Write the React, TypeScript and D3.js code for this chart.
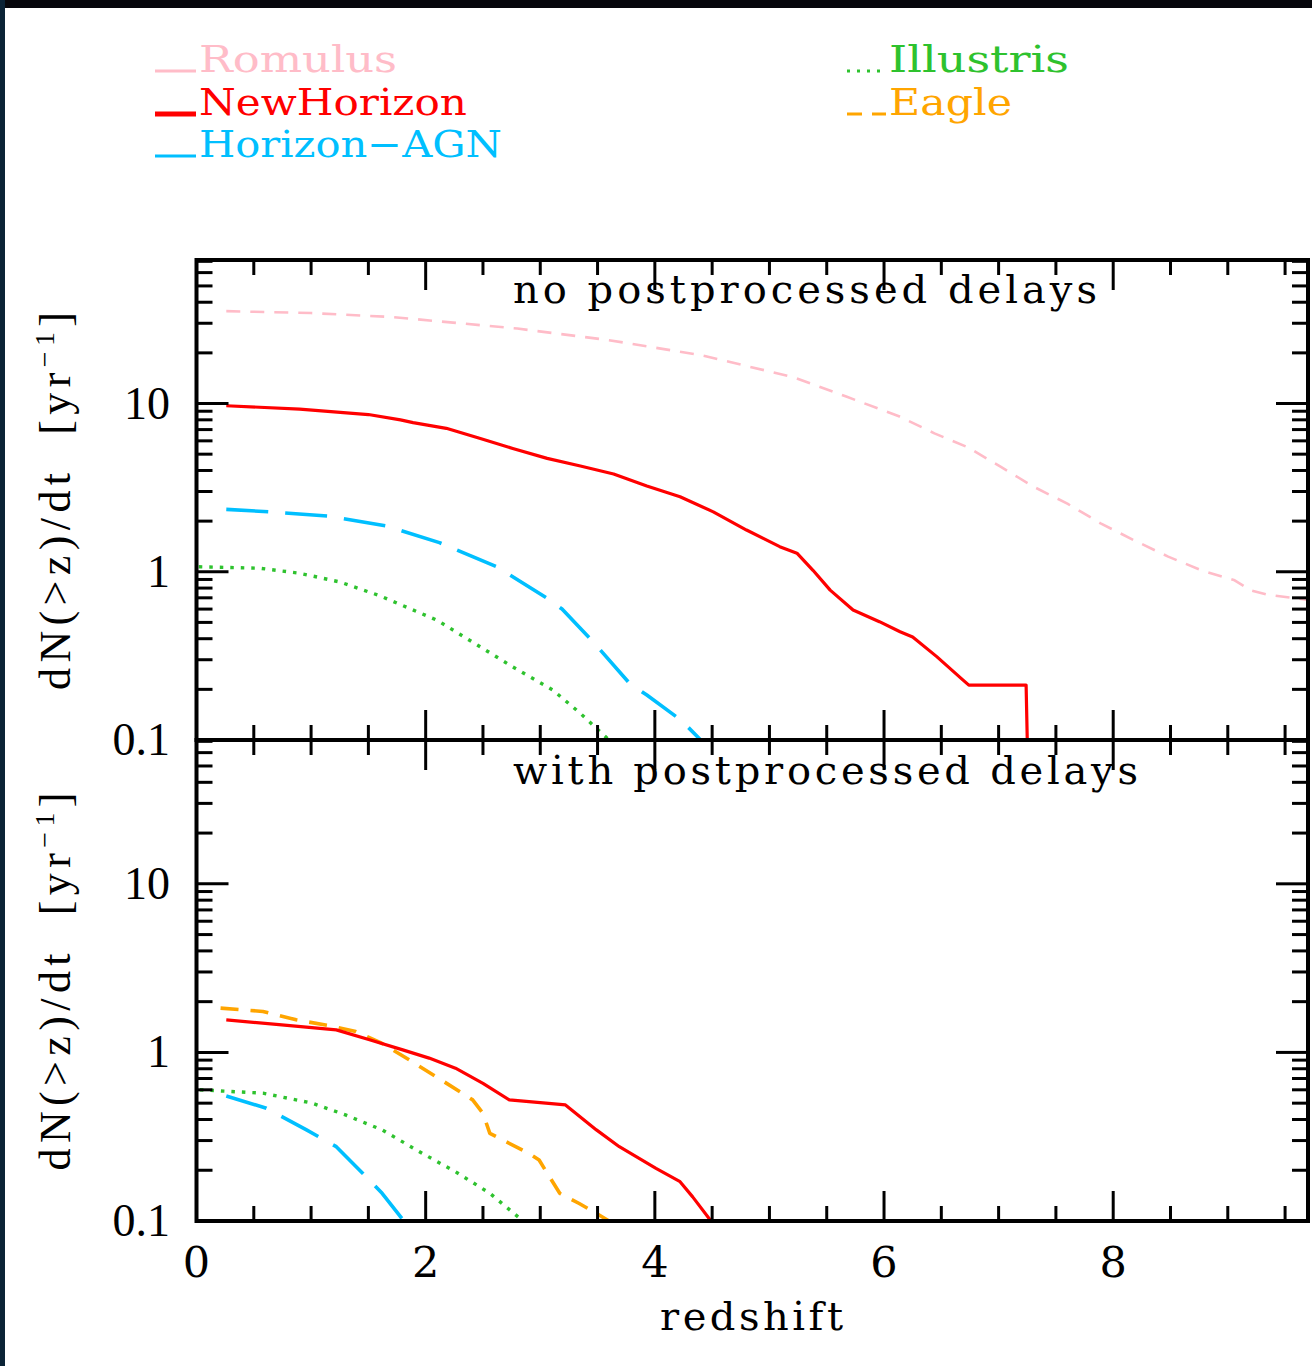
import React from 'react';
import * as d3 from 'd3';

const W = 1312;
const H = 1366;

// ---------- Top panel: no postprocessed delays ----------
const romulusTopZ = [0.26, 1.0, 1.7, 2.8, 3.6, 4.4, 5.2, 5.67, 6.13, 6.44, 6.73, 7.02, 7.31, 7.6, 7.89, 8.18, 8.48, 8.77, 9.06, 9.2, 9.35, 9.7];
const romulusTopV = [35.4, 34.5, 32.7, 27.9, 23.8, 19.4, 14.4, 11.0, 8.4, 6.65, 5.5, 4.2, 3.19, 2.54, 1.94, 1.54, 1.23, 1.02, 0.89, 0.775, 0.73, 0.68];

const newHorizonTopZ = [0.26, 0.9, 1.5, 1.78, 1.89, 2.18, 2.47, 2.76, 3.06, 3.35, 3.64, 3.93, 4.22, 4.51, 4.8, 5.09, 5.24, 5.38, 5.53, 5.73, 5.96, 6.14, 6.25, 6.46, 6.69, 6.74, 7.24, 7.25];
const newHorizonTopV = [9.7, 9.27, 8.6, 8.0, 7.7, 7.12, 6.21, 5.41, 4.72, 4.25, 3.81, 3.23, 2.79, 2.27, 1.77, 1.41, 1.29, 1.02, 0.778, 0.593, 0.505, 0.44, 0.41, 0.313, 0.227, 0.212, 0.212, 0.1];

const horizonAgnTopZ = [0.26, 0.64, 1.16, 1.66, 2.12, 2.62, 3.06, 3.19, 3.46, 3.78, 3.93, 4.23, 4.4];
const horizonAgnTopV = [2.35, 2.27, 2.14, 1.87, 1.49, 1.07, 0.695, 0.6, 0.384, 0.217, 0.185, 0.131, 0.1];

const illustrisTopZ = [0.02, 0.55, 0.9, 1.25, 1.6, 2.1, 2.76, 3.11, 3.35, 3.6];
const illustrisTopV = [1.07, 1.05, 0.98, 0.87, 0.72, 0.515, 0.272, 0.198, 0.144, 0.1];

// ---------- Bottom panel: with postprocessed delays ----------
const eagleBotZ = [0.21, 0.58, 0.87, 1.16, 1.39, 1.62, 1.86, 2.09, 2.32, 2.41, 2.5, 2.56, 2.67, 2.9, 2.99, 3.08, 3.17, 3.34, 3.49, 3.6];
const eagleBotV = [1.83, 1.75, 1.56, 1.44, 1.33, 1.13, 0.9, 0.718, 0.573, 0.523, 0.435, 0.331, 0.303, 0.252, 0.23, 0.183, 0.146, 0.127, 0.111, 0.1];

const newHorizonBotZ = [0.26, 0.72, 1.22, 1.51, 1.8, 2.03, 2.26, 2.5, 2.73, 3.22, 3.49, 3.69, 4.01, 4.22, 4.33, 4.49];
const newHorizonBotV = [1.56, 1.46, 1.36, 1.19, 1.035, 0.925, 0.806, 0.656, 0.523, 0.488, 0.347, 0.276, 0.205, 0.171, 0.139, 0.1];

const horizonAgnBotZ = [0.26, 0.61, 0.96, 1.22, 1.45, 1.62, 1.81];
const horizonAgnBotV = [0.552, 0.466, 0.347, 0.276, 0.192, 0.146, 0.1];

const illustrisBotZ = [0.03, 0.58, 1.01, 1.3, 1.62, 1.97, 2.26, 2.56, 2.85];
const illustrisBotV = [0.6, 0.573, 0.5, 0.426, 0.347, 0.252, 0.196, 0.146, 0.1];

// ---------- Axes ----------
const xDomain = [0, 9.7];
const yDomain = [0.1, 71.3];
const xMajorTicks = [0, 2, 4, 6, 8];
const xTickLabels = ['0', '2', '4', '6', '8'];
const yMajorTicks = [0.1, 1, 10];
const yTickLabels = ['0.1', '1', '10'];
const panelTitles = ['no postprocessed delays', 'with postprocessed delays'];
const xAxisTitle = 'redshift';

// ---------- Legend ----------
const legendLeft = [
  { name: 'Romulus', color: '#ffbcc8', width: 3, dash: '' },
  { name: 'NewHorizon', color: '#ff0000', width: 5, dash: '' },
  { name: 'Horizon\u2212AGN', color: '#00bfff', width: 3, dash: '' },
];
const legendRight = [
  { name: 'Illustris', color: '#2ec22e', width: 3, dash: '3 7' },
  { name: 'Eagle', color: '#ffa500', width: 3, dash: '15 10' },
];

const COLORS = {
  romulus: '#ffbcc8',
  newhorizon: '#ff0000',
  hagn: '#00bfff',
  illustris: '#2ec22e',
  eagle: '#ffa500',
};

function zip(zs: number[], vs: number[]) {
  return zs.map((z, i) => [z, vs[i]] as [number, number]);
}

export default function App() {
  const x = d3.scaleLinear().domain(xDomain).range([196.5, 1308]);

  const panels = [
    {
      id: 'p0', top: 260, bottom: 740, title: panelTitles[0], titleLen: 584, titleY: 303,
      series: [
        { d: zip(romulusTopZ, romulusTopV), color: COLORS.romulus, w: 2.6, dash: '14 10' },
        { d: zip(newHorizonTopZ, newHorizonTopV), color: COLORS.newhorizon, w: 3.2, dash: '' },
        { d: zip(horizonAgnTopZ, horizonAgnTopV), color: COLORS.hagn, w: 3.6, dash: '42 17' },
        { d: zip(illustrisTopZ, illustrisTopV), color: COLORS.illustris, w: 3.4, dash: '3.5 7' },
      ],
    },
    {
      id: 'p1', top: 740, bottom: 1221, title: panelTitles[1], titleLen: 625, titleY: 784,
      series: [
        { d: zip(eagleBotZ, eagleBotV), color: COLORS.eagle, w: 3.6, dash: '18 12' },
        { d: zip(newHorizonBotZ, newHorizonBotV), color: COLORS.newhorizon, w: 3.2, dash: '' },
        { d: zip(illustrisBotZ, illustrisBotV), color: COLORS.illustris, w: 3.4, dash: '3.5 7' },
        { d: zip(horizonAgnBotZ, horizonAgnBotV), color: COLORS.hagn, w: 3.6, dash: '42 17' },
      ],
    },
  ];

  const xL = x.range()[0];
  const xR = x.range()[1];
  const xMinor = d3.range(0.5, 9.7, 0.5).filter((t) => !xMajorTicks.includes(t));

  return (
    <svg
      width={W}
      height={H}
      viewBox={`0 0 ${W} ${H}`}
      style={{ position: 'absolute', left: 0, top: 0, background: '#ffffff' }}
    >
      <rect x={0} y={0} width={W} height={H} fill="#ffffff" />
      <rect x={0} y={0} width={W} height={8} fill="#07070c" />
      <rect x={0} y={0} width={5} height={H} fill="#0b2336" />

      {/* Legend */}
      {legendLeft.map((l, i) => {
        const by = [72, 115, 157][i];
        const lens = [198, 268, 303][i];
        return (
          <g key={l.name}>
            <line x1={155} x2={196} y1={by - 1} y2={by - 1} stroke={l.color} strokeWidth={l.width} />
            <text
              x={199}
              y={by}
              fill={l.color}
              fontFamily="'DejaVu Serif Condensed', 'DejaVu Serif', serif"
              fontSize={37}
              textLength={lens}
              lengthAdjust="spacingAndGlyphs"
            >
              {l.name}
            </text>
          </g>
        );
      })}
      {legendRight.map((l, i) => {
        const by = [72, 115][i];
        const lens = [180, 123][i];
        return (
          <g key={l.name}>
            <line x1={847} x2={886} y1={by - 1} y2={by - 1} stroke={l.color} strokeWidth={l.width} strokeDasharray={l.dash} />
            <text
              x={889}
              y={by}
              fill={l.color}
              fontFamily="'DejaVu Serif Condensed', 'DejaVu Serif', serif"
              fontSize={37}
              textLength={lens}
              lengthAdjust="spacingAndGlyphs"
            >
              {l.name}
            </text>
          </g>
        );
      })}

      {panels.map((p) => {
        const y = d3.scaleLog().domain(yDomain).range([p.bottom, p.top]);
        const yAll = y.ticks().filter((t) => t >= yDomain[0] && t <= yDomain[1]);
        const yMinor = yAll.filter((t) => !yMajorTicks.some((m) => Math.abs(m - t) < 1e-9));
        const line = d3
          .line<[number, number]>()
          .x((d) => x(d[0]))
          .y((d) => y(d[1]));
        const mid = (p.top + p.bottom) / 2;
        return (
          <g key={p.id}>
            <defs>
              <clipPath id={`clip-${p.id}`}>
                <rect x={xL} y={p.top} width={xR - xL} height={p.bottom - p.top} />
              </clipPath>
            </defs>
            <g clipPath={`url(#clip-${p.id})`}>
              {p.series.map((s, i) => (
                <path
                  key={i}
                  d={line(s.d) || ''}
                  fill="none"
                  stroke={s.color}
                  strokeWidth={s.w}
                  strokeDasharray={s.dash || undefined}
                  strokeLinejoin="round"
                />
              ))}
            </g>

            {/* ticks */}
            <g stroke="#000" strokeWidth={3}>
              {xMinor.map((t) => (
                <g key={`xm${t}`}>
                  <line x1={x(t)} x2={x(t)} y1={p.bottom} y2={p.bottom - 15} />
                  <line x1={x(t)} x2={x(t)} y1={p.top} y2={p.top + 15} />
                </g>
              ))}
              {xMajorTicks.map((t) => (
                <g key={`xM${t}`}>
                  <line x1={x(t)} x2={x(t)} y1={p.bottom} y2={p.bottom - 30} />
                  <line x1={x(t)} x2={x(t)} y1={p.top} y2={p.top + 30} />
                </g>
              ))}
              {yMinor.map((t) => (
                <g key={`ym${t}`}>
                  <line x1={xL} x2={xL + 16} y1={y(t)} y2={y(t)} />
                  <line x1={xR} x2={xR - 16} y1={y(t)} y2={y(t)} />
                </g>
              ))}
              {yMajorTicks.map((t) => (
                <g key={`yM${t}`}>
                  <line x1={xL} x2={xL + 32} y1={y(t)} y2={y(t)} />
                  <line x1={xR} x2={xR - 32} y1={y(t)} y2={y(t)} />
                </g>
              ))}
            </g>
            <rect
              x={xL}
              y={p.top}
              width={xR - xL}
              height={p.bottom - p.top}
              fill="none"
              stroke="#000"
              strokeWidth={4}
            />

            {/* y tick labels */}
            {yMajorTicks.map((t, i) => (
              <text
                key={`yl${t}`}
                x={170}
                y={y(t) + 15}
                textAnchor="end"
                fontFamily="'Liberation Serif', 'Times New Roman', serif"
                fontSize={46}
                fill="#000"
              >
                {yTickLabels[i]}
              </text>
            ))}

            {/* panel title */}
            <text
              x={513}
              y={p.titleY}
              fontFamily="'DejaVu Serif', serif"
              fontSize={40}
              fill="#000"
              textLength={p.titleLen}
              lengthAdjust="spacing"
            >
              {p.title}
            </text>

            {/* y axis title */}
            <text
              transform={`translate(70, ${mid + 1}) rotate(-90)`}
              textAnchor="middle"
              fontFamily="'Liberation Serif', 'Times New Roman', serif"
              fontSize={44}
              fill="#000"
              textLength={378}
              lengthAdjust="spacing"
            >
              dN(&gt;z)/dt{'\u00a0\u00a0'}[yr
              <tspan fontSize={28} dy={-16}>
                {'\u22121'}
              </tspan>
              <tspan dy={16}>]</tspan>
            </text>
          </g>
        );
      })}

      {/* x tick labels */}
      {xMajorTicks.map((t, i) => (
        <text
          key={`xl${t}`}
          x={x(t)}
          y={1277}
          textAnchor="middle"
          fontFamily="'DejaVu Serif', serif"
          fontSize={43}
          fill="#000"
        >
          {xTickLabels[i]}
        </text>
      ))}
      <text
        x={660}
        y={1330}
        fontFamily="'DejaVu Serif', serif"
        fontSize={40}
        fill="#000"
        textLength={183}
        lengthAdjust="spacing"
      >
        {xAxisTitle}
      </text>
    </svg>
  );
}
